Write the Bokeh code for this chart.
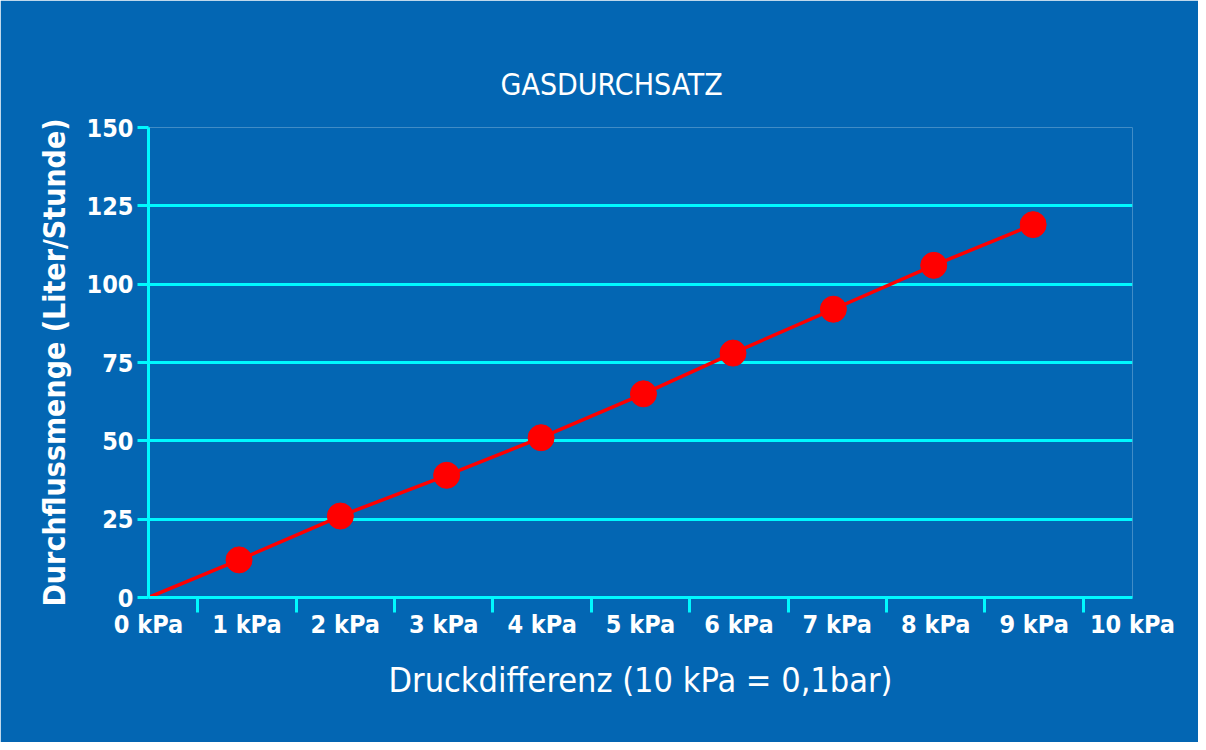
from bokeh.plotting import figure
from bokeh.models import FixedTicker, Range1d, Title, ColumnDataSource
from bokeh.embed import file_html
from bokeh.resources import INLINE

# ---- data ----
pressure_kpa = [0.92, 1.95, 3.03, 3.99, 5.03, 5.94, 6.96, 7.98, 8.99]
flow_lph = [12, 26, 39, 51, 65, 78, 92, 106, 119]
x_ticks = [0, 1, 2, 3, 4, 5, 6, 7, 8, 9, 10]
x_tick_labels = ["0 kPa", "1 kPa", "2 kPa", "3 kPa", "4 kPa", "5 kPa",
                 "6 kPa", "7 kPa", "8 kPa", "9 kPa", "10 kPa"]
y_ticks = [0, 25, 50, 75, 100, 125, 150]

BG = "#0366B3"
CYAN = "#00F8FF"
RED = "#FF0000"
FONT = "DejaVu Sans Condensed"

p = figure(width=1198, height=742, output_backend="svg", toolbar_location=None,
           x_range=Range1d(0, 10), y_range=Range1d(0, 150),
           min_border_left=148, min_border_right=66,
           min_border_top=127, min_border_bottom=145)
p.background_fill_color = BG
p.border_fill_color = BG
p.outline_line_color = None

t = Title(text="GASDURCHSATZ", align="left", offset=352, standoff=51,
          text_font=FONT, text_font_size="30px", text_font_style="normal",
          text_color="white")
p.add_layout(t, "above")

# x axis
p.xaxis.ticker = FixedTicker(ticks=x_ticks,
                             minor_ticks=[v + 0.5 for v in x_ticks[:-1]])
p.xaxis.major_label_overrides = {v: s for v, s in zip(x_ticks, x_tick_labels)}
p.xaxis.axis_line_color = CYAN
p.xaxis.axis_line_width = 3
p.xaxis.major_tick_out = 0
p.xaxis.major_tick_in = 0
p.xaxis.minor_tick_out = 15
p.xaxis.minor_tick_in = 0
p.xaxis.minor_tick_line_color = CYAN
p.xaxis.minor_tick_line_width = 3
p.xaxis.major_label_standoff = -3
p.xaxis.major_label_text_font = FONT
p.xaxis.major_label_text_font_size = "25px"
p.xaxis.major_label_text_font_style = "bold"
p.xaxis.major_label_text_color = "white"
p.xaxis.axis_label = "Druckdifferenz (10 kPa = 0,1bar)"
p.xaxis.axis_label_text_font = FONT
p.xaxis.axis_label_text_font_size = "34px"
p.xaxis.axis_label_text_font_style = "normal"
p.xaxis.axis_label_text_color = "white"
p.xaxis.axis_label_standoff = 18

# y axis
p.yaxis.ticker = FixedTicker(ticks=y_ticks, minor_ticks=[])
p.yaxis.axis_line_color = CYAN
p.yaxis.axis_line_width = 3
p.yaxis.major_tick_out = 11
p.yaxis.major_tick_in = 0
p.yaxis.major_tick_line_color = CYAN
p.yaxis.major_tick_line_width = 3
p.yaxis.major_label_standoff = 4
p.yaxis.major_label_text_font = FONT
p.yaxis.major_label_text_font_size = "25px"
p.yaxis.major_label_text_font_style = "bold"
p.yaxis.major_label_text_color = "white"
p.yaxis.axis_label = "Durchflussmenge (Liter/Stunde)"
p.yaxis.axis_label_text_font = FONT
p.yaxis.axis_label_text_font_size = "30px"
p.yaxis.axis_label_text_font_style = "bold"
p.yaxis.axis_label_text_color = "white"
p.yaxis.axis_label_standoff = 12

p.xgrid.grid_line_color = None
p.ygrid.ticker = FixedTicker(ticks=y_ticks)
p.ygrid.grid_line_color = CYAN
p.ygrid.grid_line_width = 3

line_src = ColumnDataSource(dict(x=[0] + pressure_kpa, y=[0] + flow_lph))
pt_src = ColumnDataSource(dict(x=pressure_kpa, y=flow_lph))
p.line("x", "y", source=line_src, line_color=RED, line_width=3.5)
p.scatter("x", "y", source=pt_src, size=26, marker="circle",
          fill_color=RED, line_color=RED)

open("out.html", "w").write(file_html(p, INLINE))
